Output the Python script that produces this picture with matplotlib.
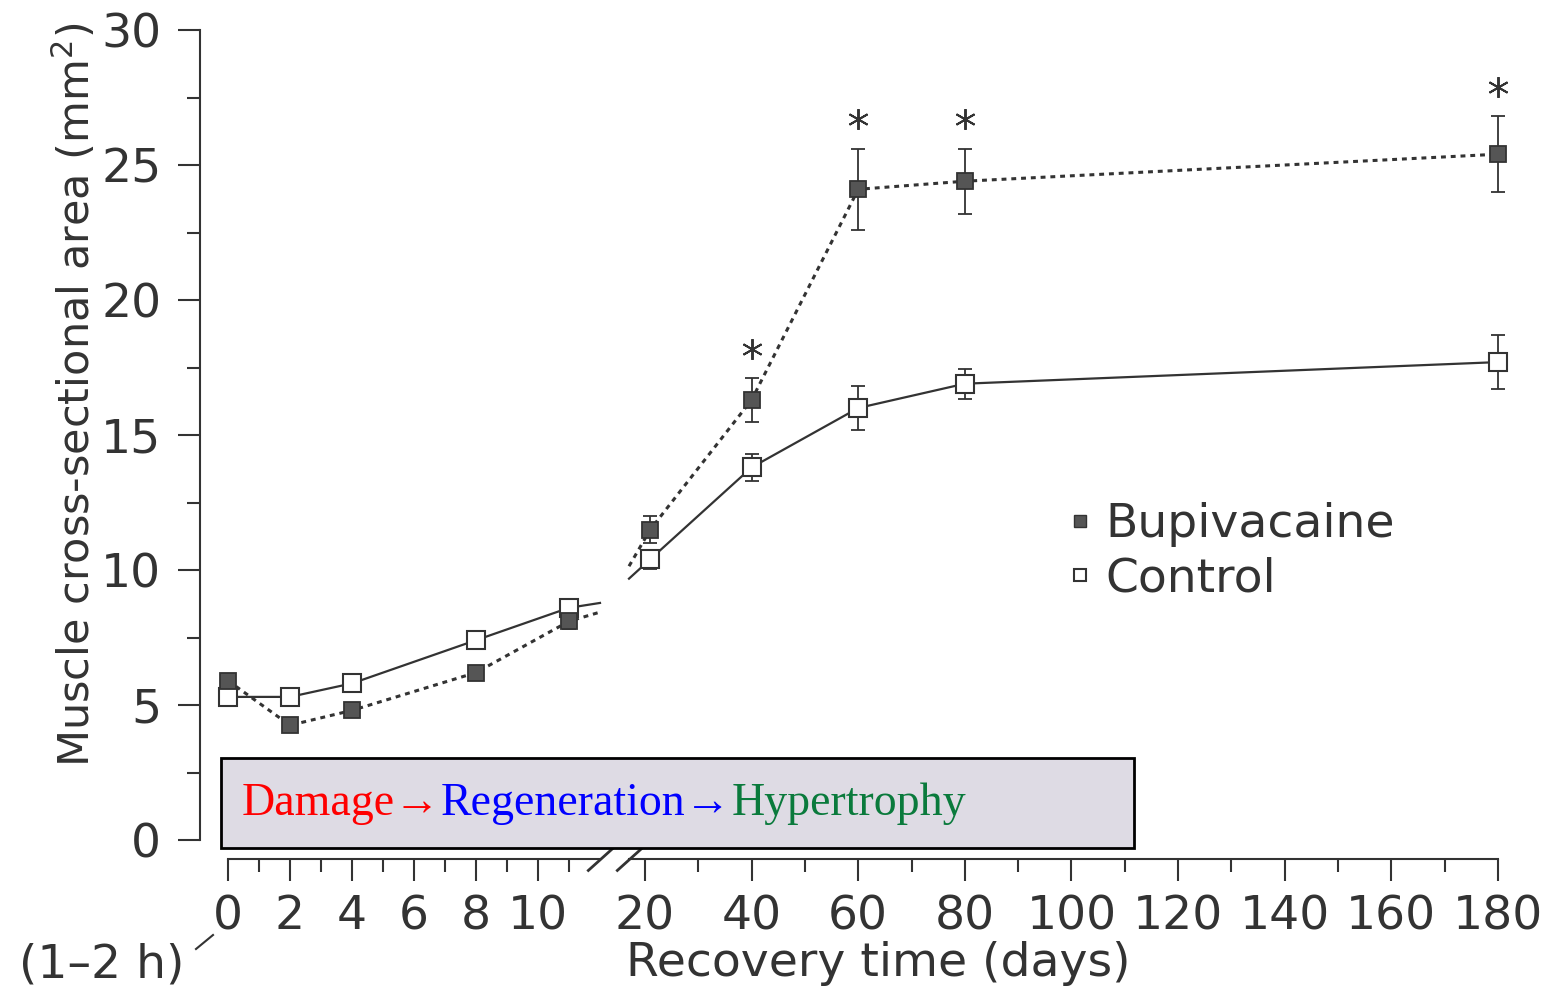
import numpy as np
import matplotlib.pyplot as plt
from matplotlib.lines import Line2D
from matplotlib.patches import Rectangle

# values (recovery day, cross-sectional area mm^2)
days = [0, 2, 4, 8, 11, 21, 40, 60, 80, 180]
bupivacaine = [5.9, 4.25, 4.8, 6.2, 8.1, 11.5, 16.3, 24.1, 24.4, 25.4]
bupivacaine_err = [0, 0, 0, 0, 0.3, 0.5, 0.8, 1.5, 1.2, 1.4]
control = [5.3, 5.3, 5.8, 7.4, 8.6, 10.4, 13.8, 16.0, 16.9, 17.7]
control_err = [0, 0, 0, 0, 0.3, 0.35, 0.5, 0.8, 0.55, 1.0]
significant = [False, False, False, False, False, False, True, True, True, True]

major_ticks = [0, 2, 4, 6, 8, 10, 20, 40, 60, 80, 100, 120, 140, 160, 180]
minor_ticks = [1, 3, 5, 7, 9, 11, 30, 50, 70, 90, 110, 130, 150, 170]

# broken time axis: days 0-12 stretched, 20-180 compressed
BREAK_LO, BREAK_HI = 12, 17
d_nodes = [0, BREAK_LO, BREAK_HI, 180]
t_nodes = [0, 372, 401, 1270]


def fwd(d):
    return np.interp(d, d_nodes, t_nodes)


def inv(t):
    return np.interp(t, t_nodes, d_nodes)


INK = '#333333'

fig = plt.figure(figsize=(15.5, 9.89), dpi=100)
ax = fig.add_axes([228 / 1550, 149 / 989, 1270 / 1550, 810 / 989])
ax.set_xscale('function', functions=(fwd, inv))
ax.set_xlim(0, 180)
ax.set_ylim(0, 30)

ax.spines['top'].set_visible(False)
ax.spines['right'].set_visible(False)
ax.spines['left'].set_position(('outward', 20))
ax.spines['bottom'].set_position(('outward', 13.5))
ax.spines['left'].set_color(INK)
ax.spines['left'].set_linewidth(1.5)
ax.spines['bottom'].set_visible(False)


def split(vals):
    d = np.array(days, float)
    v = np.array(vals, float)
    lo = d < BREAK_LO
    x1 = np.append(d[lo], BREAK_LO)
    y1 = np.append(v[lo], np.interp(BREAK_LO, d, v))
    x2 = np.insert(d[~lo], 0, BREAK_HI)
    y2 = np.insert(v[~lo], 0, np.interp(BREAK_HI, d, v))
    return (x1, y1), (x2, y2)


for part in split(control):
    ax.plot(part[0], part[1], color=INK, lw=1.6, zorder=2, clip_on=False)
for part in split(bupivacaine):
    ax.plot(part[0], part[1], color=INK, lw=2.2, dashes=(1.6, 1.6), zorder=2, clip_on=False)

ax.errorbar(days, control, yerr=control_err, fmt='none', ecolor=INK,
            elinewidth=1.3, capsize=5, capthick=1.3, zorder=3, clip_on=False)
ax.errorbar(days, bupivacaine, yerr=bupivacaine_err, fmt='none', ecolor=INK,
            elinewidth=1.3, capsize=5, capthick=1.3, zorder=3, clip_on=False)

ax.plot(days, control, ls='none', marker='s', ms=13, mfc='white', mec=INK,
        mew=1.5, zorder=4, clip_on=False)
ax.plot(days, bupivacaine, ls='none', marker='s', ms=12, mfc='#555555', mec=INK,
        mew=1.3, zorder=5, clip_on=False)

# asterisks above the significant bupivacaine points
sig_x = [d for d, s in zip(days, significant) if s]
sig_y = [v + e + 1.1 for v, e, s in zip(bupivacaine, bupivacaine_err, significant) if s]
ax.plot(sig_x, sig_y, ls='none', marker=(6, 2, 0), ms=15, mew=1.4, color=INK, clip_on=False)

# ticks
ax.set_xticks(major_ticks)
ax.set_xticklabels([str(t) for t in major_ticks])
ax.set_xticks(minor_ticks, minor=True)
ax.set_yticks(np.arange(0, 31, 5))
ax.set_yticks(np.arange(2.5, 30, 5), minor=True)
ax.tick_params(axis='x', which='major', length=15.5, width=1.5, pad=10,
               labelsize=34, color=INK, labelcolor=INK)
ax.tick_params(axis='x', which='minor', length=9, width=1.5, color=INK)
ax.tick_params(axis='y', which='major', length=16, width=1.5, pad=12,
               labelsize=34, color=INK, labelcolor=INK)
ax.tick_params(axis='y', which='minor', length=9.5, width=1.5, color=INK)

# x axis line with the break marks
trans = ax.get_xaxis_transform(which='tick1')
ax.plot([0, BREAK_LO], [0, 0], color=INK, lw=1.5, transform=trans, clip_on=False)
ax.plot([BREAK_HI, 180], [0, 0], color=INK, lw=1.5, transform=trans, clip_on=False)
ax.plot([BREAK_LO, BREAK_HI], [0, 0], ls='none', marker=[(-1, -0.9), (1, 0.9)],
        ms=19, mew=2, color=INK, transform=trans, clip_on=False)

ax.set_ylabel('Muscle cross-sectional area (mm$^2$)', fontsize=31, color=INK,
              va='center', ha='center')
ax.yaxis.set_label_coords((75 - 228) / 1270, (840 - 395) / 810)
ax.set_xlabel('Recovery time (days)', fontsize=34, color=INK, va='center')
ax.xaxis.set_label_coords((878 - 228) / 1270, (840 - 963) / 810)

fig.text(102 / 1550, 1 - 965 / 989, '(1–2 h)', fontsize=34, color=INK,
         ha='center', va='center')
fig.add_artist(Line2D([196 / 1550, 213 / 1550], [1 - 949 / 989, 1 - 935 / 989],
                      color=INK, lw=1.5, transform=fig.transFigure))

# legend
h_bup = Line2D([], [], ls='none', marker='s', ms=9, mfc='#555555', mec=INK)
h_con = Line2D([], [], ls='none', marker='s', ms=9, mfc='white', mec=INK, mew=1.5)
ax.legend([h_bup, h_con], ['Bupivacaine', 'Control'], loc='center left',
          bbox_to_anchor=(1068 / 1550, 1 - 552 / 989), bbox_transform=fig.transFigure,
          frameon=False, fontsize=34, handlelength=0.5, handletextpad=0.3,
          labelspacing=0.2, borderpad=0, borderaxespad=0, labelcolor=INK)

# the Damage -> Regeneration -> Hypertrophy box
ax.add_patch(Rectangle((221 / 1550, 1 - 848 / 989), 913 / 1550, 90 / 989,
                       transform=fig.transFigure, facecolor='#dedbe4',
                       edgecolor='black', lw=2, zorder=10, clip_on=False))
serif = ['Liberation Serif', 'DejaVu Serif']
t1 = ax.text(242 / 1550, 1 - 815 / 989, 'Damage→', transform=fig.transFigure,
             fontsize=33, family=serif, color='#ff0000', va='baseline', zorder=11)
t2 = ax.annotate('Regeneration→', xy=(1, 0), xycoords=t1, va='bottom',
                 fontsize=33, family=serif, color='#0000ff', zorder=11)
ax.annotate('Hypertrophy', xy=(1, 0), xycoords=t2, va='bottom',
            fontsize=33, family=serif, color='#0a7a3c', zorder=11)

fig.savefig('out.png', dpi=100)
